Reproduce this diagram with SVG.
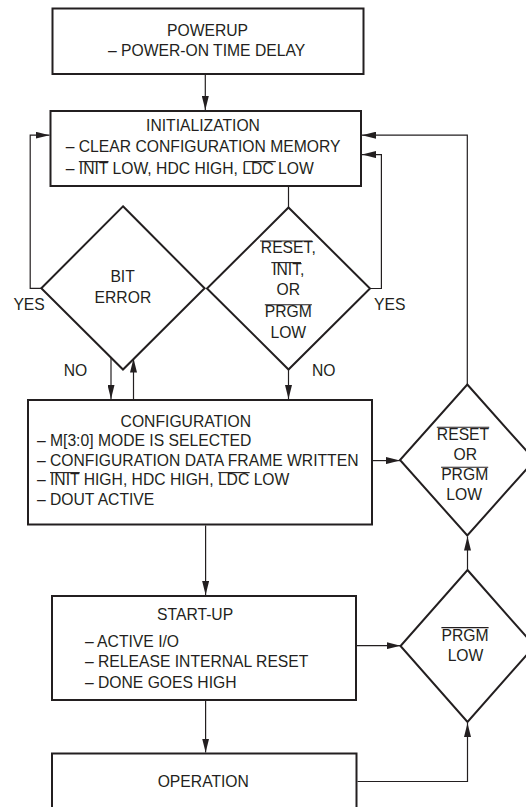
<svg xmlns="http://www.w3.org/2000/svg" width="526" height="807" viewBox="0 0 526 807">
<style>
.box{fill:#fff;stroke:#231f20;stroke-width:2}
.dia{fill:#fff;stroke:#231f20;stroke-width:2;stroke-linejoin:miter}
.t{font-family:"Liberation Sans",Arial,sans-serif;font-size:15.7px;fill:#231f20}
.c{text-anchor:middle}
.ov{stroke:#231f20;stroke-width:1.1}
.con{fill:none;stroke:#231f20;stroke-width:1.2}
.arr{marker-end:url(#ah)}
</style>
<defs>
<marker id="ah" markerUnits="userSpaceOnUse" markerWidth="14" markerHeight="7" refX="14" refY="3.5" orient="auto">
<path d="M0,0 L14,3.5 L0,7 z" fill="#231f20"/>
</marker>
</defs>
<rect width="526" height="807" fill="#fff"/>
<g id="connectors">
<path class="con arr" d="M205.3,74 V110"/>
<path class="con arr" d="M41.3,288.3 H30.2 V135.2 H49.5"/>
<path class="con" d="M288.5,186.2 V207.5"/>
<path class="con arr" d="M370,288.5 H381.4 V154.6 H362"/>
<path class="con arr" d="M467.3,384.5 V135.2 H362"/>
<path class="con arr" d="M111,358 V399"/>
<path class="con arr" d="M133.5,399 V358.5"/>
<path class="con arr" d="M288.5,369.5 V399"/>
<path class="con arr" d="M373,460.6 H400"/>
<path class="con arr" d="M205.6,525.6 V595"/>
<path class="con arr" d="M357,645.7 H400.5"/>
<path class="con arr" d="M467.5,570 V536.5"/>
<path class="con arr" d="M205.6,701 V752.5"/>
<path class="con arr" d="M357.5,781.5 H467.5 V723"/>
</g>
<g id="powerup">
<rect class="box" x="52.5" y="8.5" width="311" height="65.5"/>
<text class="t c" x="207.5" y="35.6">POWERUP</text>
<text class="t c" x="206.6" y="56">– POWER-ON TIME DELAY</text>
</g>
<g id="initialization">
<rect class="box" x="50.5" y="111" width="310.5" height="75"/>
<text class="t c" x="203" y="131.2">INITIALIZATION</text>
<text class="t" x="65.7" y="152.3">– CLEAR CONFIGURATION MEMORY</text>
<text class="t" x="65.7" y="174">– INIT LOW, HDC HIGH, LDC LOW</text>
<line class="ov" x1="78.8" y1="161.6" x2="108.5" y2="161.6"/>
<line class="ov" x1="244.2" y1="161.6" x2="275.8" y2="161.6"/>
</g>
<g id="bit-error">
<polygon class="dia" points="123,206.3 204.6,288.3 123,369.5 41.3,288.3"/>
<text class="t c" x="122.6" y="282.3">BIT</text>
<text class="t c" x="122.9" y="303">ERROR</text>
</g>
<g id="reset-init-prgm">
<polygon class="dia" points="288.5,207.5 370,288.5 288.5,369.5 207,288.5"/>
<text class="t c" x="288.3" y="253.1">RESET,</text>
<text class="t c" x="288.3" y="274.6">INIT,</text>
<text class="t c" x="288.3" y="295.3">OR</text>
<text class="t c" x="288.3" y="316.8">PRGM</text>
<text class="t c" x="288.3" y="337.6">LOW</text>
<line class="ov" x1="260" y1="241" x2="312.3" y2="241"/>
<line class="ov" x1="271.3" y1="262.6" x2="301" y2="262.6"/>
<line class="ov" x1="264.8" y1="304.8" x2="311.9" y2="304.8"/>
</g>
<g id="labels">
<text class="t" x="13.4" y="309.5">YES</text>
<text class="t" x="374" y="309.5">YES</text>
<text class="t" x="63.7" y="376">NO</text>
<text class="t" x="312" y="376">NO</text>
</g>
<g id="configuration">
<rect class="box" x="28" y="400" width="344" height="124.5"/>
<text class="t c" x="185.8" y="426.5">CONFIGURATION</text>
<text class="t" x="36.9" y="446.4">– M[3:0] MODE IS SELECTED</text>
<text class="t" x="36.9" y="465.9">– CONFIGURATION DATA FRAME WRITTEN</text>
<text class="t" x="36.9" y="485.2">– INIT HIGH, HDC HIGH, LDC LOW</text>
<text class="t" x="36.9" y="504.5">– DOUT ACTIVE</text>
<line class="ov" x1="50" y1="472.6" x2="79.7" y2="472.6"/>
<line class="ov" x1="218.3" y1="472.6" x2="249.7" y2="472.6"/>
</g>
<g id="reset-or-prgm">
<polygon class="dia" points="467.3,384.5 534.6,460 467.3,535.5 400,460"/>
<text class="t c" x="463" y="439.5">RESET</text>
<text class="t c" x="465.3" y="460">OR</text>
<text class="t c" x="464.7" y="480">PRGM</text>
<text class="t c" x="464.2" y="500">LOW</text>
<line class="ov" x1="436.8" y1="427.2" x2="489.2" y2="427.2"/>
<line class="ov" x1="441.1" y1="467.2" x2="488.2" y2="467.2"/>
</g>
<g id="start-up">
<rect class="box" x="52" y="596" width="304" height="104"/>
<text class="t c" x="195.1" y="620">START-UP</text>
<text class="t" x="84.9" y="646.5">– ACTIVE I/O</text>
<text class="t" x="84.9" y="667.2">– RELEASE INTERNAL RESET</text>
<text class="t" x="84.9" y="688">– DONE GOES HIGH</text>
</g>
<g id="prgm-low">
<polygon class="dia" points="467.5,570 534.5,646 467.5,722 400.5,646"/>
<text class="t c" x="465" y="640.5">PRGM</text>
<text class="t c" x="465.5" y="660.5">LOW</text>
<line class="ov" x1="441.4" y1="627.6" x2="488.6" y2="627.6"/>
</g>
<g id="operation">
<rect class="box" x="52" y="753.5" width="304.5" height="70"/>
<text class="t c" x="203.3" y="787.2">OPERATION</text>
</g>
</svg>
